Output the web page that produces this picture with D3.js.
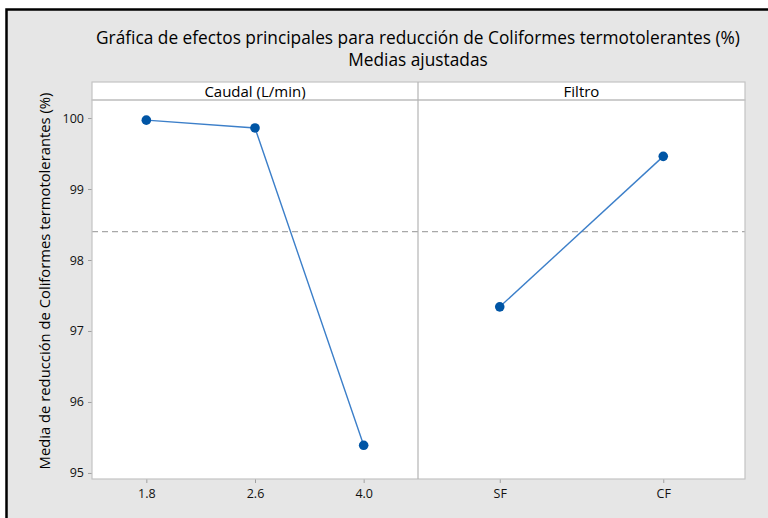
<!DOCTYPE html>
<html>
<head>
<meta charset="utf-8">
<script src="https://cdn.jsdelivr.net/npm/d3@7"></script>
<style>
  body { margin: 0; background: #fff; }
  svg { display: block; font-family: "Open Sans", "Noto Sans", sans-serif; }
</style>
</head>
<body>
<svg width="768" height="518"></svg>
<script>
// data
var caudalCats = ["1.8", "2.6", "4.0"];
var caudalMeans = [99.97, 99.86, 95.39];
var filtroCats = ["SF", "CF"];
var filtroMeans = [97.34, 99.46];
var grandMean = 98.40;
var yTicks = [95, 96, 97, 98, 99, 100];

var svg = d3.select("svg"),
    width = +svg.attr("width"),
    height = +svg.attr("height");

// page frame
svg.append("rect").attr("x", 6).attr("y", 9).attr("width", width - 6).attr("height", height - 9)
  .attr("fill", "#e6e6e6");
svg.append("path").attr("d", "M6.5," + height + "V9.5H" + width)
  .attr("fill", "none").attr("stroke", "#000").attr("stroke-width", 2.5);

var plotL = 92, plotR = 745, split = 418, plotT = 100, plotB = 479, stripT = 82;

var y = d3.scaleLinear().domain([94.915, 100.254]).range([plotB, plotT]);

var panels = [
  { title: "Caudal (L/min)", cats: caudalCats, vals: caudalMeans, x0: plotL, x1: split },
  { title: "Filtro", cats: filtroCats, vals: filtroMeans, x0: split, x1: plotR }
];

// white plot area + strips
svg.append("rect").attr("x", plotL).attr("y", plotT).attr("width", plotR - plotL).attr("height", plotB - plotT)
  .attr("fill", "#fff");
svg.append("rect").attr("x", plotL).attr("y", stripT).attr("width", plotR - plotL).attr("height", plotT - stripT)
  .attr("fill", "#fff").attr("stroke", "#c4c4c4").attr("stroke-width", 1.2);

// reference line (overall mean)
svg.append("line")
  .attr("x1", plotL).attr("x2", plotR)
  .attr("y1", y(grandMean)).attr("y2", y(grandMean))
  .attr("stroke", "#a8a8a8").attr("stroke-width", 1.3).attr("stroke-dasharray", "6,4");

// y axis
var yAxis = svg.append("g").attr("transform", "translate(" + plotL + ",0)")
  .call(d3.axisLeft(y).tickValues(yTicks).tickFormat(d3.format("d")).tickSize(4).tickPadding(4));
yAxis.select(".domain").remove();
yAxis.selectAll("line").attr("stroke", "#a0a0a0");
yAxis.selectAll("text").attr("font-size", 12.5).attr("fill", "#111")
  .attr("font-family", "'Open Sans', sans-serif");

var line = d3.line();

panels.forEach(function(p) {
  var x = d3.scalePoint().domain(p.cats).range([p.x0, p.x1]).padding(0.5);

  var xAxis = svg.append("g").attr("transform", "translate(0," + plotB + ")")
    .call(d3.axisBottom(x).tickSize(4).tickPadding(6));
  xAxis.select(".domain").remove();
  xAxis.selectAll("line").attr("stroke", "#a0a0a0");
  xAxis.selectAll("text").attr("font-size", 12.5).attr("fill", "#111")
    .attr("font-family", "'Open Sans', sans-serif");

  svg.append("text")
    .attr("x", (p.x0 + p.x1) / 2).attr("y", stripT + 14.5)
    .attr("text-anchor", "middle").attr("font-size", 15).attr("fill", "#000")
    .text(p.title);

  var pts = p.cats.map(function(c, i) { return [x(c), y(p.vals[i])]; });
  svg.append("path").attr("d", line(pts))
    .attr("fill", "none").attr("stroke", "#3c7fc9").attr("stroke-width", 1.4);
  svg.selectAll(null).data(pts).enter().append("circle")
    .attr("cx", function(d) { return d[0]; })
    .attr("cy", function(d) { return d[1]; })
    .attr("r", 4.8).attr("fill", "#0055a5");
});

// frame lines
svg.append("rect").attr("x", plotL).attr("y", plotT).attr("width", plotR - plotL).attr("height", plotB - plotT)
  .attr("fill", "none").attr("stroke", "#c4c4c4").attr("stroke-width", 1.2);
svg.append("line").attr("x1", split).attr("x2", split).attr("y1", stripT).attr("y2", plotB)
  .attr("stroke", "#b4b4b4").attr("stroke-width", 1.2);

// titles
svg.append("text").attr("x", 418).attr("y", 44).attr("text-anchor", "middle")
  .attr("font-size", 17.3).attr("fill", "#000")
  .text("Gráfica de efectos principales para reducción de Coliformes termotolerantes (%)");
svg.append("text").attr("x", 418).attr("y", 66).attr("text-anchor", "middle")
  .attr("font-size", 17.3).attr("fill", "#000")
  .text("Medias ajustadas");

svg.append("text")
  .attr("transform", "translate(50,281) rotate(-90)")
  .attr("text-anchor", "middle").attr("font-size", 14.8).attr("fill", "#000")
  .text("Media de reducción de Coliformes termotolerantes (%)");
</script>
</body>
</html>
